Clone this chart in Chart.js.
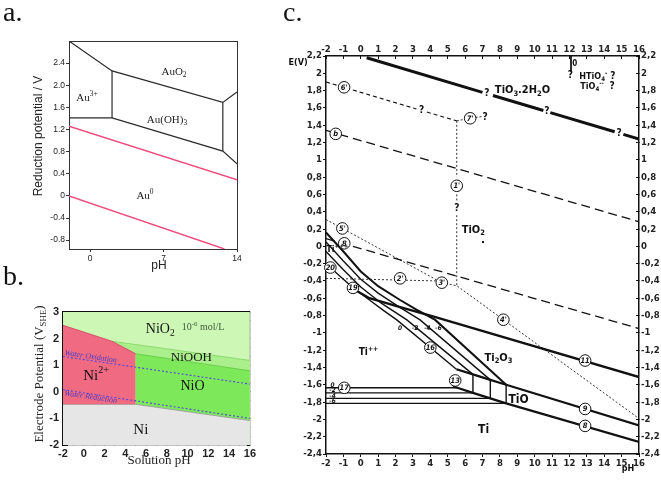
<!DOCTYPE html>
<html><head><meta charset="utf-8">
<script src="https://cdn.jsdelivr.net/npm/chart.js@4.4.1/dist/chart.umd.min.js"></script>
<style>
html,body{margin:0;padding:0;background:#fff;}
body{width:661px;height:495px;position:relative;overflow:hidden;}
canvas{position:absolute;}
</style></head><body>
<canvas id="ca" width="255" height="280" style="left:0px;top:0px"></canvas>
<canvas id="cb" width="262" height="233" style="left:0px;top:262px"></canvas>
<canvas id="cc" width="399" height="495" style="left:262px;top:0px"></canvas>
<script>
// ================= Panel a (Au) =================
const aXTicks = [0, 7, 14];
const aXTickLabels = ['0', '7', '14'];
const aYTicks = [2.4, 2.0, 1.6, 1.2, 0.8, 0.4, 0, -0.4, -0.8];
const aYTickLabels = ['2.4', '2.0', '1.6', '1.2', '0.8', '0.4', '0', '-0.4', '-0.8'];
const aUpperBoundary = [[-2, 2.8], [2.1, 2.26], [12.65, 1.69], [14, 1.88]];
const aLowerBoundary = [[-2, 1.41], [2.1, 1.41], [12.65, 0.81], [14, 0.58]];
const aVerticals = [[2.1, 2.26], [2.1, 1.41], null, [12.65, 1.69], [12.65, 0.81]];
const aWaterOxidation = [[-2, 1.26], [14, 0.29]];
const aWaterReduction = [[-2, 0], [12.8, -0.96]];
const aLabels = [['AuO_{2}', 8.0, 2.24], ['Au^{3+}', -0.29, 1.77], ['Au(OH)_{3}', 7.33, 1.37], ['Au^{0}', 5.24, 0.0]];

// ================= Panel b (Ni) =================
const bXTicks = [-2, -1, 0, 1, 2, 3, 4, 5, 6, 7, 8, 9, 10, 11, 12, 13, 14, 15, 16];
const bXTickLabels = ['-2', '', '0', '', '2', '', '4', '', '6', '', '8', '', '10', '', '12', '', '14', '', '16'];
const bTopTicks = [-2, 0, 2, 4, 6, 8, 10, 12, 14, 16];
const bYTicks = [-2, -1, 0, 1, 2, 3];
const bYTickLabels = ['-2', '-1', '0', '1', '2', '3'];
const bRightTicks = [-2, -1.667, -1.333, -1, -0.667, -0.333, 0, 0.333, 0.667, 1, 1.333, 1.667, 2, 2.333, 2.667, 3];
const bNiO2Top = [[-2, 3], [16, 3]];
const bNiOOHTop = [[2.7, 1.9], [16, 1.18]];
const bNiOTop = [[5, 1.43], [16, 0.79]];
const bNiTop = [[-2, -0.47], [5, -0.47], [16, -1.08]];
const bNi2Top = [[-2, 2.5], [2.7, 1.9], [5, 1.43]];
const bNi2Bottom = -0.47;
const bWaterOxidation = [[-2, 1.33], [16, 0.29]];
const bWaterReduction = [[-2, 0.08], [16, -1.0]];
const bLabels = [['NiO_{2}', 7.37, 2.34, 14], ['NiOOH', 10.37, 1.28, 13], ['Ni^{2+}', 1.19, 0.59, 15], ['NiO', 10.47, 0.21, 14], ['Ni', 5.5, -1.42, 15]];

// ================= Panel c (Ti) =================
const cXTicks = [-2, -1, 0, 1, 2, 3, 4, 5, 6, 7, 8, 9, 10, 11, 12, 13, 14, 15, 16];
const cXTickLabels = ['-2', '-1', '0', '1', '2', '3', '4', '5', '6', '7', '8', '9', '10', '11', '12', '13', '14', '15', '16'];
const cYTicks = [2.2, 2.0, 1.8, 1.6, 1.4, 1.2, 1.0, 0.8, 0.6, 0.4, 0.2, 0, -0.2, -0.4, -0.6, -0.8, -1.0, -1.2, -1.4, -1.6, -1.8, -2.0, -2.2, -2.4];
const cYTickLabels = ['2,2', '2', '1,8', '1,6', '1,4', '1,2', '1', '0,8', '0,6', '0,4', '0,2', '0', '-0,2', '-0,4', '-0,6', '-0,8', '-1', '-1,2', '-1,4', '-1,6', '-1,8', '-2', '-2,2', '-2,4'];
const cTiO3Line = [[0.34, 2.18], [7.0, 1.78], null, [7.6, 1.744], [10.5, 1.57], null, [10.9, 1.546], [14.6, 1.324], null, [15.1, 1.294], [16, 1.24]];
const cLine11 = [[-0.45, -0.49], [0.5, -0.6], [2.06, -0.69], [4.0, -0.8], [16, -1.51]];
const cLine9 = [[5.5, -1.42], [6.45, -1.48], [7.45, -1.543], [8.36, -1.60], [16, -2.07]];
const cLine8 = [[5.3, -1.62], [5.55, -1.635], [6.45, -1.693], [7.45, -1.757], [8.36, -1.815], [16, -2.26]];
const cBundleOuter = [[-2, 0.16], [-1, -0.06], [0, -0.29], [1, -0.46], [2.26, -0.62], [3.2, -0.73], [4.28, -0.85], [8.36, -1.60]];
const cBundleInner = [
  [-2, 0.05], [-1, -0.17], [0, -0.38], [1, -0.54], [2.2, -0.7], [3.41, -0.85], [7.45, -1.543], null,
  [-2, -0.06], [-1, -0.27], [0, -0.47], [1.2, -0.66], [2.65, -0.85], [6.45, -1.48], null,
  [-2, -0.2], [-1, -0.38], [-0.43, -0.48], [0.5, -0.62], [1.3, -0.74], [2.07, -0.85], [5.5, -1.42]
];
const cBandLines = [
  [6.45, -1.48], [6.45, -1.693], null, [7.45, -1.543], [7.45, -1.757], null, [8.36, -1.60], [8.36, -1.815], null,
  [-2, -1.635], [5.55, -1.635], null, [-2, -1.693], [6.45, -1.693], null, [-2, -1.757], [7.45, -1.757], null, [-2, -1.815], [8.36, -1.815]
];
const cDashLong = [[-2, 1.34], [16, 0.284], null, [-2, 0.09], [16, -0.95]];
const cDashShort = [[-2, 1.90], [3.2, 1.588], null, [3.8, 1.552], [5.52, 1.45]];
const cDotted = [
  [5.52, 1.45], [5.52, 0.80], null, [5.52, 0.60], [5.52, 0.52], null, [5.52, 0.36], [5.52, -0.455], null,
  [-2, 0.31], [4.66, -0.42], null,
  [-2, -0.37], [4.45, -0.40], null,
  [4.66, -0.42], [5.52, -0.455], [16, -1.99], null,
  [5.52, 1.45], [6.0, 1.47], null, [6.6, 1.49], [6.95, 1.5]
];
const cZeroMark = [[12.09, 2.2], [12.09, 2.02]];
const cCircles = [["6'", -0.96, 1.838], ['b', -1.44, 1.30], ["7'", 6.29, 1.48], ["1'", 5.52, 0.70], ["5'", -1.06, 0.207], ['8', -0.95, 0.035],
  ["2'", 2.26, -0.37], ["3'", 4.66, -0.42], ["4'", 8.2, -0.848], ['20', -1.75, -0.245], ['19', -0.45, -0.48], ['16', 4.0, -1.17],
  ['13', 5.43, -1.55], ['17', -0.95, -1.635], ['11', 12.9, -1.32], ['9', 12.9, -1.879], ['8', 12.9, -2.075]];
const cQuestion = [[7.25, 1.77], [10.7, 1.56], [14.85, 1.31], [3.5, 1.57], [7.15, 1.49], [5.52, 0.44], [12.05, 1.98], [14.5, 1.96], [14.45, 1.845]];
const cRegionLabels = [['TiO_{3}.2H_{2}O', 9.3, 1.80, 11], ['TiO_{2}', 6.47, 0.19, 11], ['Ti_{2}O_{3}', 7.92, -1.29, 11], ['TiO', 9.07, -1.77, 12],
  ['Ti', 7.06, -2.12, 12], ['Ti^{++}', 0.44, -1.23, 10], ['Ti^{+++}', -1.35, -0.04, 9], ['HTiO_{4}^{-}', 13.37, 1.957, 9], ['TiO_{4}^{--}', 13.3, 1.845, 9], ['0', 12.3, 2.11, 8]];
const cConcLabels = [['0', -1.62, -1.605], ['-2', -1.62, -1.665], ['-4', -1.62, -1.728], ['-6', -1.62, -1.79],
  ['0', 2.26, -0.95], ['-2', 3.12, -0.95], ['-4', 3.83, -0.95], ['-6', 4.47, -0.95]];

// ================= helpers =================
const SANS = '"Liberation Sans", Arial, Helvetica, sans-serif';
const SERIF = '"Liberation Serif", "Times New Roman", Times, serif';
const NARROW = '"Liberation Sans Narrow", "DejaVu Sans Condensed", "Arial Narrow", sans-serif';

function pts(arr) {
  const out = []; let lastX = 0;
  arr.forEach(p => { if (p) { out.push({x: p[0], y: p[1]}); lastX = p[0]; } else out.push({x: lastX, y: null}); });
  return out;
}
function ds(arr, o) {
  return Object.assign({data: pts(arr), borderColor: '#111', borderWidth: 1.2, pointRadius: 0, pointHoverRadius: 0, fill: false, tension: 0, spanGaps: false}, o);
}
function axis(pos, min, max, o) {
  const s = {
    type: 'linear', position: pos, min: min, max: max,
    ticks: {display: !!o.labels, autoSkip: false, maxRotation: 0, minRotation: 0, padding: (o.pad !== undefined ? o.pad : 2), color: '#222', font: o.font || {family: SANS, size: 9}},
    grid: {display: o.tl !== undefined, drawOnChartArea: false, drawTicks: true, tickLength: (o.tl !== undefined ? o.tl : 0), color: o.color || '#222', lineWidth: o.tw || 1},
    border: {display: true, color: o.color || '#222', width: o.bw || 1},
    afterFit: a => { if (pos === 'left' || pos === 'right') a.width = o.size; else a.height = o.size; }
  };
  if (o.labels) { const L = o.labels; s.ticks.callback = (v, i) => L[i]; }
  if (o.values) { const V = o.values; s.afterBuildTicks = a => { a.ticks = V.map(v => ({value: v})); }; }
  return s;
}
function parseRich(text) {
  const out = []; let i = 0, buf = '';
  while (i < text.length) {
    const c = text[i];
    if ((c === '_' || c === '^') && text[i + 1] === '{') {
      if (buf) { out.push({t: buf, m: 0}); buf = ''; }
      const end = text.indexOf('}', i);
      out.push({t: text.slice(i + 2, end), m: c === '_' ? 1 : 2});
      i = end + 1;
    } else { buf += c; i++; }
  }
  if (buf) out.push({t: buf, m: 0});
  return out;
}
function drawRich(ctx, text, x, y, o) {
  const parts = parseRich(text);
  const fontFor = m => (o.style || 'normal') + ' ' + (o.weight || 'normal') + ' ' + (m ? o.size * 0.68 : o.size) + 'px ' + o.family;
  let w = 0;
  parts.forEach(p => { ctx.font = fontFor(p.m); p.w = ctx.measureText(p.t).width; w += p.w; });
  let cx = o.align === 'left' ? x : (o.align === 'right' ? x - w : x - w / 2);
  ctx.fillStyle = o.color || '#111';
  ctx.textBaseline = 'middle'; ctx.textAlign = 'left';
  parts.forEach(p => {
    ctx.font = fontFor(p.m);
    const dy = p.m === 1 ? o.size * 0.3 : (p.m === 2 ? -o.size * 0.38 : 0);
    ctx.fillText(p.t, cx, y + dy);
    cx += p.w;
  });
}
const baseOpts = {responsive: false, animation: false, devicePixelRatio: 1, events: [],
  plugins: {legend: {display: false}, tooltip: {enabled: false}}};

// ================= Chart a =================
const aFont = {family: SANS, size: 8.5};
new Chart(document.getElementById('ca'), {
  type: 'line',
  data: {datasets: [
    ds(aUpperBoundary, {borderColor: '#2b2b2b', borderWidth: 1.2}),
    ds(aLowerBoundary, {borderColor: '#2b2b2b', borderWidth: 1.2}),
    ds(aVerticals, {borderColor: '#2b2b2b', borderWidth: 1.2}),
    ds(aWaterOxidation, {borderColor: '#ec4d7e', borderWidth: 1.4}),
    ds(aWaterReduction, {borderColor: '#ec4d7e', borderWidth: 1.4})
  ]},
  options: Object.assign({}, baseOpts, {
    layout: {padding: {left: 0, top: 41, right: 18, bottom: 6}},
    scales: {
      x: axis('bottom', -2, 14, {values: aXTicks, labels: aXTickLabels, font: aFont, tl: 3, pad: 2, size: 25, color: '#333'}),
      y: axis('left', -0.96, 2.8, {values: aYTicks, labels: aYTickLabels, font: aFont, tl: 3, pad: 1, size: 69, color: '#333'}),
      x2: axis('top', -2, 14, {size: 0, color: '#333'}),
      y2: axis('right', -0.96, 2.8, {size: 0, color: '#333'})
    }
  }),
  plugins: [{id: 'aText', afterDraw(chart) {
    const ctx = chart.ctx, X = v => chart.scales.x.getPixelForValue(v), Y = v => chart.scales.y.getPixelForValue(v);
    ctx.save();
    aLabels.forEach(l => drawRich(ctx, l[0], X(l[1]), Y(l[2]), {size: 11, family: SERIF, color: '#222'}));
    drawRich(ctx, 'pH', 159, 266, {size: 12, family: SANS, color: '#222'});
    ctx.save(); ctx.translate(39, 136); ctx.rotate(-Math.PI / 2);
    drawRich(ctx, 'Reduction potential / V', 0, 0, {size: 12, family: SANS, color: '#222'});
    ctx.restore();
    ctx.font = '28px ' + SERIF; ctx.fillStyle = '#111'; ctx.textAlign = 'left'; ctx.textBaseline = 'alphabetic';
    ctx.fillText('a.', 3, 21);
    ctx.restore();
  }}]
});

// ================= Chart b =================
const bFont = {family: SANS, size: 11, weight: 'bold'};
new Chart(document.getElementById('cb'), {
  type: 'line',
  data: {datasets: [
    ds(bWaterOxidation, {borderColor: '#5446dc', borderWidth: 1.1, borderDash: [2, 2], order: 1}),
    ds(bWaterReduction, {borderColor: '#5446dc', borderWidth: 1.1, borderDash: [2, 2], order: 2}),
    ds(bNi2Top, {borderColor: '#d4506a', borderWidth: 1, fill: {value: bNi2Bottom}, backgroundColor: '#f06a82', order: 6}),
    ds(bNiTop, {borderColor: '#9aa69a', borderWidth: 1, fill: 'start', backgroundColor: '#e6e6e6', order: 7}),
    ds(bNiOTop, {borderColor: '#6ccf4c', borderWidth: 1, fill: 'start', backgroundColor: '#7ee85b', order: 8}),
    ds(bNiOOHTop, {borderColor: '#8fd872', borderWidth: 1, fill: 'start', backgroundColor: '#aaef8c', order: 9}),
    ds(bNiO2Top, {borderWidth: 0, borderColor: 'rgba(0,0,0,0)', fill: 'start', backgroundColor: '#cdf7b4', order: 10})
  ]},
  options: Object.assign({}, baseOpts, {
    layout: {padding: {left: 0, top: 50, right: 7, bottom: 20}},
    scales: {
      x: axis('bottom', -2, 16, {values: bXTicks, labels: bXTickLabels, font: bFont, tl: -4, pad: 6, size: 30, color: '#111', bw: 1.2}),
      y: axis('left', -2, 3, {values: bYTicks, labels: bYTickLabels, font: bFont, tl: -5, pad: 9, size: 63, color: '#111', bw: 1.2}),
      x2: axis('top', -2, 16, {values: bTopTicks, tl: -4, size: 0, color: '#111', bw: 1.2}),
      y2: axis('right', -2, 3, {values: bRightTicks, tl: -3, size: 0, color: '#111', bw: 1.2})
    }
  }),
  plugins: [{id: 'bText', afterDraw(chart) {
    const ctx = chart.ctx, X = v => chart.scales.x.getPixelForValue(v), Y = v => chart.scales.y.getPixelForValue(v);
    ctx.save();
    bLabels.forEach(l => drawRich(ctx, l[0], X(l[1]), Y(l[2]), {size: l[3], family: SERIF, color: '#111'}));
    drawRich(ctx, '10^{-6} mol/L', X(11.5), Y(2.41), {size: 10, family: SERIF, color: '#3d5c3d'});
    const ang = Math.atan2(Y(bWaterOxidation[1][1]) - Y(bWaterOxidation[0][1]), X(bWaterOxidation[1][0]) - X(bWaterOxidation[0][0]));
    [['Water Oxidation', 0.67, 1.32], ['Water Reduction', 0.67, -0.2]].forEach(t => {
      ctx.save(); ctx.translate(X(t[1]), Y(t[2])); ctx.rotate(ang);
      drawRich(ctx, t[0], 0, 0, {size: 8, family: SERIF, style: 'italic', color: '#4a3cc8'});
      ctx.restore();
    });
    drawRich(ctx, 'Solution pH', 159, 199, {size: 13, family: SERIF, color: '#222'});
    ctx.save(); ctx.translate(40, 112); ctx.rotate(-Math.PI / 2);
    drawRich(ctx, 'Electrode Potential (V_{SHE})', 0, 0, {size: 13, family: SERIF, color: '#222'});
    ctx.restore();
    ctx.font = '28px ' + SERIF; ctx.fillStyle = '#111'; ctx.textAlign = 'left'; ctx.textBaseline = 'alphabetic';
    ctx.fillText('b.', 3, 23);
    ctx.restore();
  }}]
});

// ================= Chart c =================
const cFont = {family: NARROW, size: 9.5, weight: 'bold'};
new Chart(document.getElementById('cc'), {
  type: 'line',
  data: {datasets: [
    ds(cTiO3Line, {borderWidth: 3}),
    ds(cLine11, {borderWidth: 2.4}),
    ds(cLine9, {borderWidth: 2.2}),
    ds(cLine8, {borderWidth: 2.2}),
    ds(cBundleOuter, {borderWidth: 2}),
    ds(cBundleInner, {borderWidth: 1.4}),
    ds(cBandLines, {borderWidth: 1.4}),
    ds(cDashLong, {borderWidth: 1.3, borderDash: [9, 5]}),
    ds(cDashShort, {borderWidth: 1.1, borderDash: [4, 3]}),
    ds(cDotted, {borderWidth: 1, borderDash: [2, 2], borderColor: '#333'}),
    ds(cZeroMark, {borderWidth: 1})
  ]},
  options: Object.assign({}, baseOpts, {
    layout: {padding: {left: 0, top: 36, right: 0, bottom: 19}},
    scales: {
      x: axis('bottom', -2, 16, {values: cXTicks, labels: cXTickLabels, font: cFont, tl: 3, pad: 1, size: 22, color: '#111', bw: 1.5}),
      y: axis('left', -2.4, 2.2, {values: cYTicks, labels: cYTickLabels, font: cFont, tl: 3, pad: 1, size: 64, color: '#111', bw: 1.5}),
      x2: axis('top', -2, 16, {values: cXTicks, labels: cXTickLabels, font: cFont, tl: -3, pad: 4, size: 20, color: '#111', bw: 1.5}),
      y2: axis('right', -2.4, 2.2, {values: cYTicks, labels: cYTickLabels, font: cFont, tl: -3, pad: 5, size: 22, color: '#111', bw: 1.5})
    }
  }),
  plugins: [{id: 'cText', afterDraw(chart) {
    const ctx = chart.ctx, X = v => chart.scales.x.getPixelForValue(v), Y = v => chart.scales.y.getPixelForValue(v);
    ctx.save();
    cCircles.forEach(c => {
      ctx.beginPath(); ctx.arc(X(c[1]), Y(c[2]), 5.8, 0, Math.PI * 2);
      ctx.fillStyle = '#fff'; ctx.fill(); ctx.lineWidth = 1; ctx.strokeStyle = '#111'; ctx.stroke();
      drawRich(ctx, c[0], X(c[1]), Y(c[2]) + 0.5, {size: 7.5, family: NARROW, weight: 'bold', style: 'italic', color: '#111'});
    });
    cQuestion.forEach(q => drawRich(ctx, '?', X(q[0]), Y(q[1]), {size: 10, family: NARROW, weight: 'bold', color: '#111'}));
    cRegionLabels.forEach(l => drawRich(ctx, l[0], X(l[1]), Y(l[2]), {size: l[3], family: NARROW, weight: 'bold', color: '#111'}));
    cConcLabels.forEach(l => drawRich(ctx, l[0], X(l[1]), Y(l[2]), {size: 6.5, family: NARROW, weight: 'bold', style: 'italic', color: '#111'}));
    ctx.fillStyle = '#111'; ctx.fillRect(X(7.03) - 1, Y(0.05) - 1, 2, 2);
    drawRich(ctx, 'E(V)', 36, 63, {size: 9, family: NARROW, weight: 'bold', color: '#111'});
    drawRich(ctx, 'pH', 366, 469, {size: 9, family: NARROW, weight: 'bold', color: '#111'});
    ctx.font = '28px ' + SERIF; ctx.fillStyle = '#111'; ctx.textAlign = 'left'; ctx.textBaseline = 'alphabetic';
    ctx.fillText('c.', 21, 21);
    ctx.restore();
  }}]
});
</script>
</body></html>
